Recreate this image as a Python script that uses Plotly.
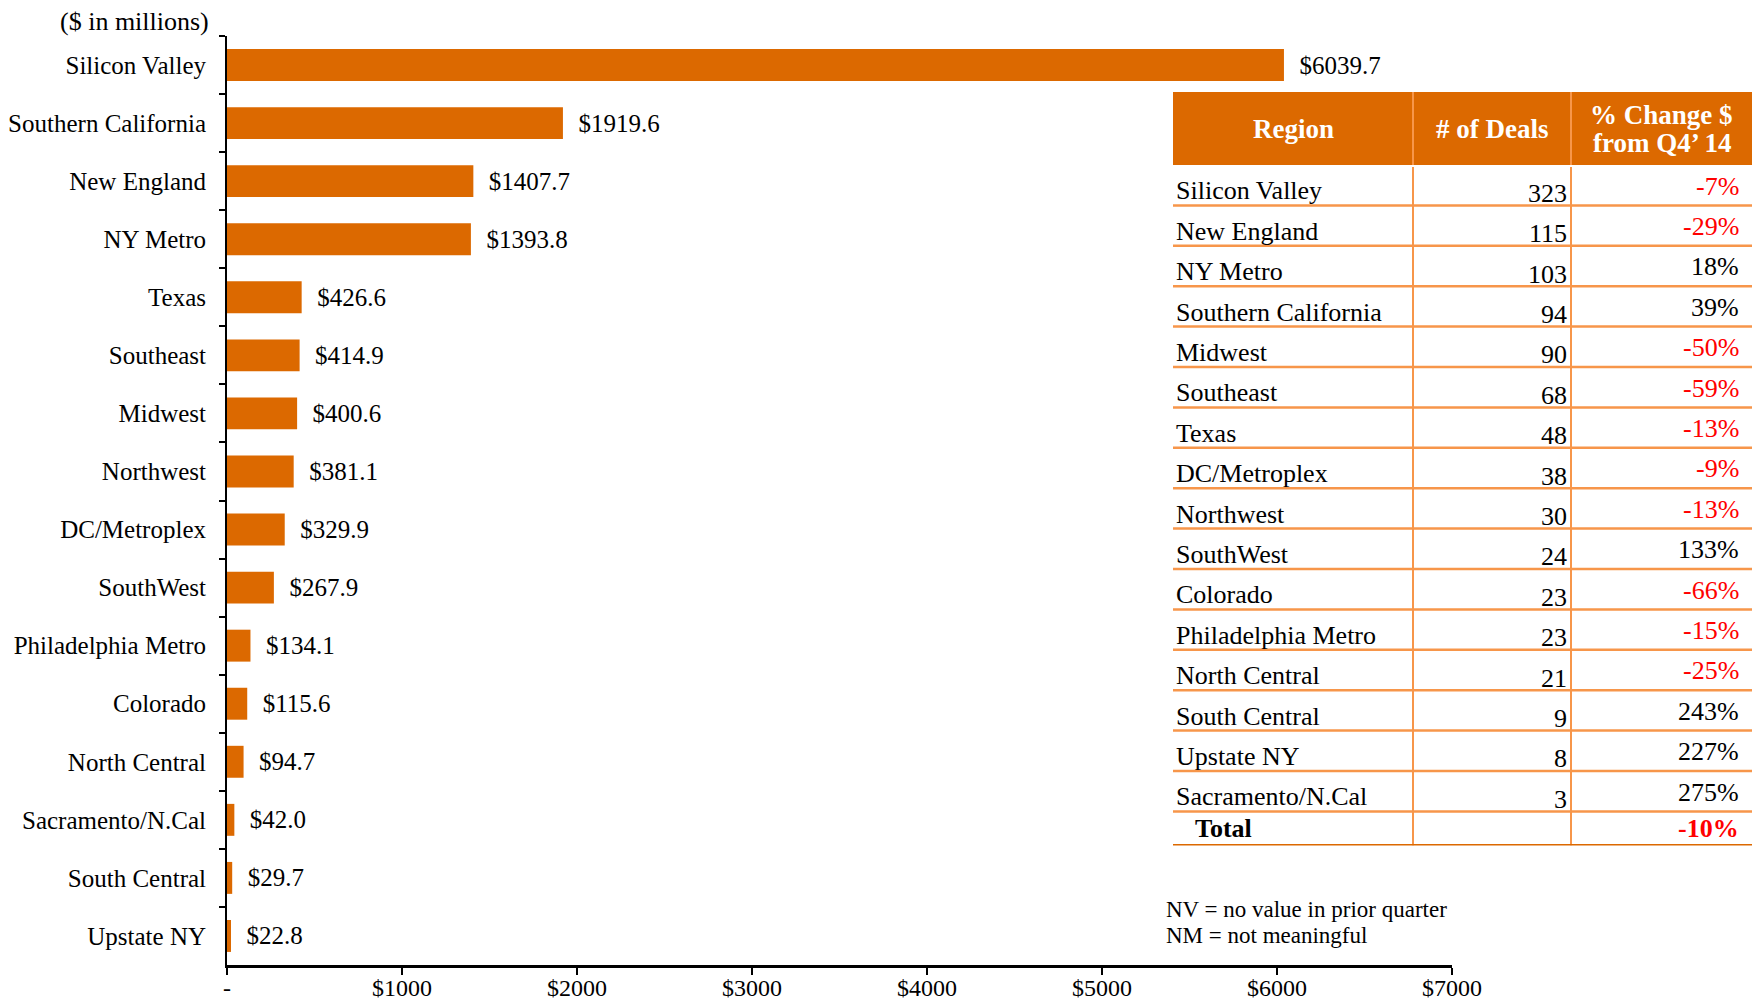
import plotly.graph_objects as go

# ---- data -------------------------------------------------------------
REGIONS = [
    "Silicon Valley", "Southern California", "New England", "NY Metro", "Texas",
    "Southeast", "Midwest", "Northwest", "DC/Metroplex", "SouthWest",
    "Philadelphia Metro", "Colorado", "North Central", "Sacramento/N.Cal",
    "South Central", "Upstate NY",
]
INVESTED = [
    6039.7, 1919.6, 1407.7, 1393.8, 426.6, 414.9, 400.6, 381.1, 329.9, 267.9,
    134.1, 115.6, 94.7, 42.0, 29.7, 22.8,
]
X_TICKS = [0, 1000, 2000, 3000, 4000, 5000, 6000, 7000]
X_TICK_TEXT = ["-", "$1000", "$2000", "$3000", "$4000", "$5000", "$6000", "$7000"]

TABLE_HEADER = [["Region"], ["# of Deals"], ["% Change $", "from Q4\u2019 14"]]
TABLE_REGIONS = [
    "Silicon Valley", "New England", "NY Metro", "Southern California", "Midwest",
    "Southeast", "Texas", "DC/Metroplex", "Northwest", "SouthWest", "Colorado",
    "Philadelphia Metro", "North Central", "South Central", "Upstate NY",
    "Sacramento/N.Cal",
]
DEALS = [323, 115, 103, 94, 90, 68, 48, 38, 30, 24, 23, 23, 21, 9, 8, 3]
PCT_CHANGE = [-7, -29, 18, 39, -50, -59, -13, -9, -13, 133, -66, -15, -25, 243, 227, 275]
TOTAL_PCT = -10

NOTES = ["NV = no value in prior quarter", "NM = not meaningful"]

# ---- style ------------------------------------------------------------
W, H = 1752, 1004
FONT = "Liberation Serif"
ORANGE = "#DC6900"
LINE_ORANGE = "#F7964A"
RED = "#FF0000"

# plot area in pixels
PX_L, PX_R, PY_T, PY_B = 227, 1452, 36, 965

# table geometry in pixels
T_L, T_T = 1173, 92
COL_EDGES = [0, 240, 398, 579]
HEAD_H, ROW_H, TOTAL_H = 73, 40.4, 34
T_H = HEAD_H + ROW_H * len(TABLE_REGIONS) + TOTAL_H
TXT = 26

fig = go.Figure()

fig.add_trace(
    go.Bar(
        x=INVESTED,
        y=REGIONS,
        orientation="h",
        marker=dict(color=ORANGE, line=dict(width=0)),
        texttemplate="\u00a0\u00a0$%{x:.1f}",
        textposition="outside",
        textfont=dict(family=FONT, size=25, color="black"),
        cliponaxis=False,
        hoverinfo="skip",
        showlegend=False,
    )
)

# invisible trace so the table axes exist
fig.add_trace(
    go.Scatter(x=[None], y=[None], xaxis="x2", yaxis="y2", showlegend=False, hoverinfo="skip")
)

shapes = []
annotations = []

# ---- table ------------------------------------------------------------
table_w = COL_EDGES[-1]
shapes.append(dict(type="rect", xref="x2", yref="y2", x0=0, x1=table_w, y0=0, y1=HEAD_H,
                   fillcolor=ORANGE, line=dict(width=0), layer="above"))
for cx in COL_EDGES[1:-1]:
    shapes.append(dict(type="line", xref="x2", yref="y2", x0=cx, x1=cx, y0=0, y1=HEAD_H,
                       line=dict(color=LINE_ORANGE, width=2)))
    shapes.append(dict(type="line", xref="x2", yref="y2", x0=cx, x1=cx, y0=HEAD_H + 2, y1=T_H,
                       line=dict(color=LINE_ORANGE, width=2)))
LINE_PITCH = 28
for i, lines in enumerate(TABLE_HEADER):
    cx = (COL_EDGES[i] + COL_EDGES[i + 1]) / 2
    y0 = HEAD_H / 2 - (len(lines) - 1) * LINE_PITCH / 2
    for k, label in enumerate(lines):
        annotations.append(dict(
            xref="x2", yref="y2", x=cx, y=y0 + k * LINE_PITCH,
            text=f"<b>{label}</b>", showarrow=False,
            font=dict(family=FONT, size=27, color="white"),
        ))

for i, (reg, n, pct) in enumerate(zip(TABLE_REGIONS, DEALS, PCT_CHANGE)):
    top = HEAD_H + i * ROW_H
    bot = top + ROW_H
    shapes.append(dict(type="line", xref="x2", yref="y2", x0=0, x1=table_w, y0=bot, y1=bot,
                       line=dict(color=LINE_ORANGE, width=2.5)))
    annotations.append(dict(
        xref="x2", yref="y2", x=COL_EDGES[0] + 1, y=top + ROW_H * 0.64, xanchor="left",
        text=reg, showarrow=False, font=dict(family=FONT, size=TXT, color="black"),
    ))
    annotations.append(dict(
        xref="x2", yref="y2", x=COL_EDGES[2] - 2, y=top + ROW_H * 0.7, xanchor="right",
        text=str(n), showarrow=False, font=dict(family=FONT, size=TXT, color="black"),
    ))
    annotations.append(dict(
        xref="x2", yref="y2", x=COL_EDGES[3] - 11, y=top + ROW_H * 0.52, xanchor="right",
        text=f"{pct}%", showarrow=False,
        font=dict(family=FONT, size=TXT, color=RED if pct < 0 else "black"),
    ))

total_top = HEAD_H + ROW_H * len(TABLE_REGIONS)
shapes.append(dict(type="line", xref="x2", yref="y2", x0=0, x1=table_w, y0=T_H, y1=T_H,
                   line=dict(color=ORANGE, width=3)))
annotations.append(dict(
    xref="x2", yref="y2", x=COL_EDGES[0] + 20, y=total_top + TOTAL_H / 2, xanchor="left",
    text="<b>Total</b>", showarrow=False, font=dict(family=FONT, size=TXT, color="black"),
))
annotations.append(dict(
    xref="x2", yref="y2", x=COL_EDGES[3] - 11, y=total_top + TOTAL_H / 2, xanchor="right",
    text=f"<b>{TOTAL_PCT}%</b>", showarrow=False, font=dict(family=FONT, size=TXT, color=RED),
))

# ---- notes ------------------------------------------------------------
for k, note in enumerate(NOTES):
    annotations.append(dict(
        xref="paper", yref="paper", x=1164 / W, y=1 - (909 + k * 26) / H,
        xanchor="left", yanchor="middle",
        text=note, showarrow=False, font=dict(family=FONT, size=23, color="black"),
    ))
annotations.append(dict(
    xref="paper", yref="paper", x=211 / W, y=1 - 22 / H, xanchor="right", yanchor="middle",
    text="($ in millions)", showarrow=False, font=dict(family=FONT, size=26, color="black"),
))

fig.update_layout(
    width=W,
    height=H,
    margin=dict(l=0, r=0, t=0, b=0),
    paper_bgcolor="white",
    plot_bgcolor="white",
    bargap=0.45,
    font=dict(family=FONT, size=25, color="black"),
    xaxis=dict(
        domain=[PX_L / W, PX_R / W],
        range=[0, 7000],
        tickvals=X_TICKS,
        ticktext=X_TICK_TEXT,
        showgrid=False,
        zeroline=False,
        showline=True,
        linecolor="black",
        linewidth=2.5,
        ticks="outside",
        ticklen=7,
        tickwidth=2,
        tickcolor="black",
        ticklabelstandoff=-8,
        tickfont=dict(family=FONT, size=24),
        automargin=False,
        fixedrange=True,
    ),
    yaxis=dict(
        domain=[1 - PY_B / H, 1 - PY_T / H],
        categoryorder="array",
        categoryarray=REGIONS,
        autorange="reversed",
        showgrid=False,
        zeroline=False,
        showline=True,
        linecolor="black",
        linewidth=2,
        ticks="outside",
        tickson="boundaries",
        ticklen=6,
        tickwidth=2,
        tickcolor="black",
        ticklabelstandoff=14,
        tickfont=dict(family=FONT, size=25),
        automargin=False,
        fixedrange=True,
    ),
    xaxis2=dict(
        domain=[T_L / W, 1.0],
        range=[0, table_w],
        anchor="y2",
        visible=False,
        fixedrange=True,
    ),
    yaxis2=dict(
        domain=[1 - (T_T + T_H) / H, 1 - T_T / H],
        range=[T_H, 0],
        anchor="x2",
        visible=False,
        fixedrange=True,
    ),
    shapes=shapes,
    annotations=annotations,
    showlegend=False,
)

fig.write_html(
    "out.html",
    config={"displayModeBar": False},
    post_script="document.body.style.margin='0';",
)
